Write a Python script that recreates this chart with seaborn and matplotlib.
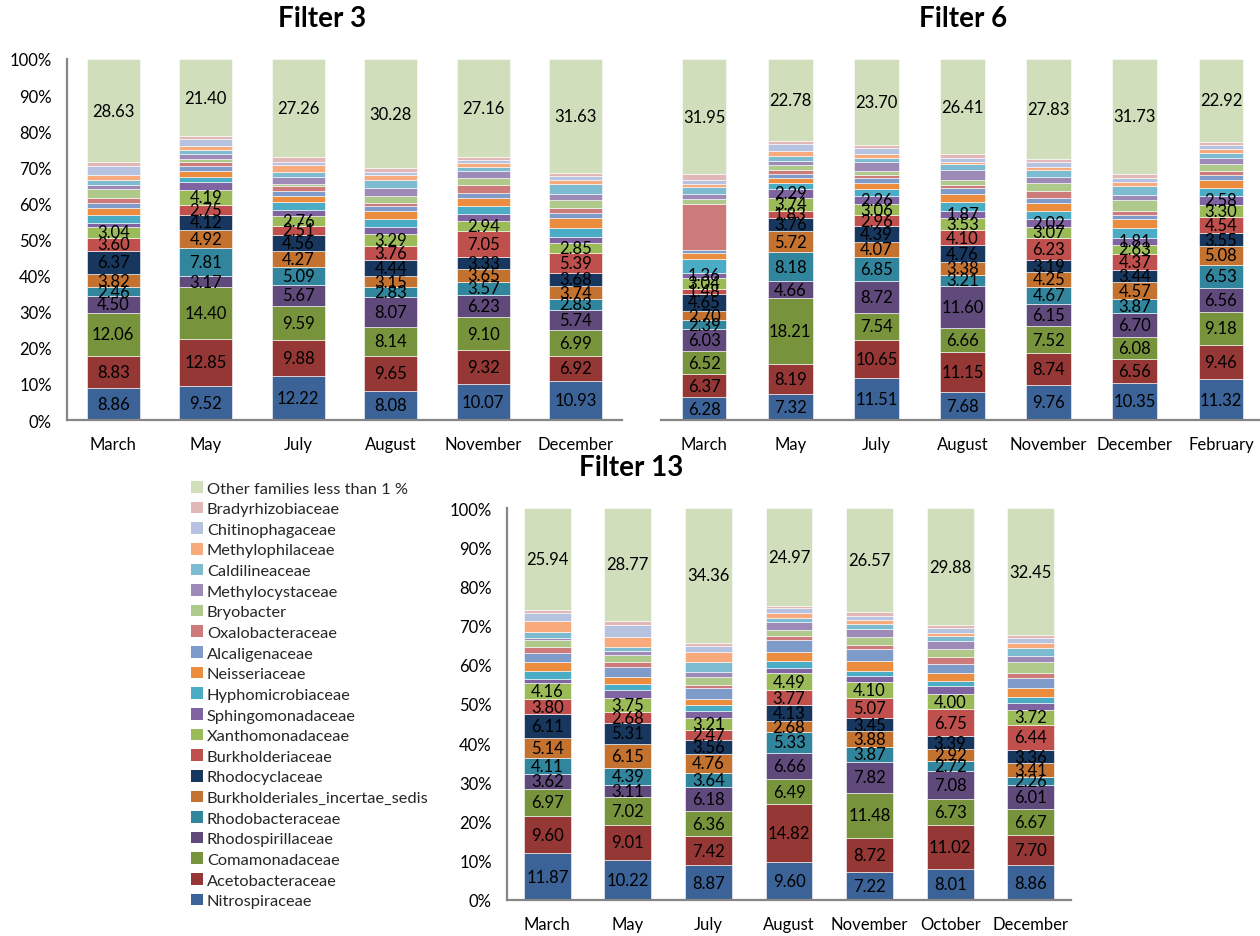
import numpy as np
import matplotlib
matplotlib.use("Agg")
import matplotlib.pyplot as plt
import seaborn as sns
from matplotlib.patches import Patch

# Families, stacked from the bottom up
families = [
    "Nitrospiraceae", "Acetobacteraceae", "Comamonadaceae", "Rhodospirillaceae",
    "Rhodobacteraceae", "Burkholderiales_incertae_sedis", "Rhodocyclaceae",
    "Burkholderiaceae", "Xanthomonadaceae", "Sphingomonadaceae", "Hyphomicrobiaceae",
    "Neisseriaceae", "Alcaligenaceae", "Oxalobacteraceae", "Bryobacter",
    "Methylocystaceae", "Caldilineaceae", "Methylophilaceae", "Chitinophagaceae",
    "Bradyrhizobiaceae", "Other families less than 1 %",
]

family_colors = [
    "#3C6397", "#943735", "#77933C", "#604A7B", "#31859C", "#C4722F", "#17375E",
    "#C0504D", "#9BBB59", "#8064A2", "#4BACC6", "#EB8C3F", "#7F9BC9", "#CD7B7A",
    "#AFC98A", "#9E8AB7", "#7DBCD0", "#F8AA7C", "#B5C3E0", "#E1B7B7", "#D1DEBB",
]

# Filter 3 (relative abundance, %)
f3_months = ["March", "May", "July", "August", "November", "December"]
f3_march = [8.86, 8.83, 12.06, 4.50, 2.46, 3.82, 6.37, 3.60, 3.04, 1.00, 2.30,
            1.75, 1.60, 1.40, 2.40, 1.00, 1.50, 1.50, 2.30, 1.08, 28.63]
f3_may = [9.52, 12.85, 14.40, 3.17, 7.81, 4.92, 4.12, 2.75, 4.19, 2.10, 1.50,
          1.60, 1.30, 1.20, 1.00, 1.30, 1.10, 1.10, 2.00, 0.67, 21.40]
f3_july = [12.22, 9.88, 9.59, 5.67, 5.09, 4.27, 4.56, 2.51, 2.76, 1.75, 2.10,
           1.70, 1.40, 1.20, 0.75, 1.75, 1.50, 1.90, 1.00, 1.14, 27.26]
f3_august = [8.08, 9.65, 8.14, 8.07, 2.83, 3.15, 4.44, 3.76, 3.29, 2.10, 2.20,
             2.20, 1.50, 0.75, 1.85, 2.20, 2.20, 1.50, 0.75, 1.06, 30.28]
f3_november = [10.07, 9.32, 9.10, 6.23, 3.57, 3.65, 3.33, 7.05, 2.94, 1.85, 2.30,
               2.20, 1.40, 2.20, 1.90, 1.90, 1.10, 1.10, 0.90, 0.73, 27.16]
f3_december = [10.93, 6.92, 6.99, 5.74, 2.83, 3.74, 3.68, 5.39, 2.85, 1.50, 2.60,
               2.70, 1.40, 1.40, 2.30, 1.60, 2.80, 1.20, 0.90, 0.90, 31.63]

# Filter 6
f6_months = ["March", "May", "July", "August", "November", "December", "February"]
f6_march = [6.28, 6.37, 6.52, 6.03, 2.39, 2.70, 4.65, 1.48, 3.04, 1.36, 3.90,
            1.65, 0.80, 12.60, 1.50, 1.20, 2.20, 0.65, 1.10, 1.63, 31.95]
f6_may = [7.32, 8.19, 18.21, 4.66, 8.18, 5.72, 3.76, 1.83, 3.74, 2.29, 1.85,
          1.40, 0.90, 1.30, 1.20, 1.30, 1.30, 1.50, 1.85, 0.72, 22.78]
f6_july = [11.51, 10.65, 7.54, 8.72, 6.85, 4.07, 4.39, 2.96, 3.06, 2.26, 2.10,
           1.60, 1.20, 1.00, 1.10, 2.50, 1.10, 1.10, 1.50, 1.09, 23.70]
f6_august = [7.68, 11.15, 6.66, 11.60, 3.21, 3.38, 4.76, 4.10, 3.53, 1.87, 2.50,
             2.30, 1.50, 0.75, 1.50, 2.85, 1.50, 0.75, 0.90, 1.10, 26.41]
f6_november = [9.76, 8.74, 7.52, 6.15, 4.67, 4.25, 3.19, 6.23, 3.07, 2.02, 2.40,
               2.20, 1.40, 1.85, 2.20, 1.75, 1.90, 0.85, 1.40, 0.62, 27.83]
f6_december = [10.35, 6.56, 6.08, 6.70, 3.87, 4.57, 3.44, 4.37, 2.63, 1.81, 2.70,
               2.70, 1.10, 1.10, 2.85, 1.60, 2.50, 1.10, 1.10, 1.14, 31.73]
f6_february = [11.32, 9.46, 9.18, 6.56, 6.53, 5.08, 3.55, 4.54, 3.30, 2.58, 2.10,
               2.20, 1.50, 1.10, 1.85, 1.60, 1.40, 1.10, 1.10, 1.03, 22.92]

# Filter 13
f13_months = ["March", "May", "July", "August", "November", "October", "December"]
f13_march = [11.87, 9.60, 6.97, 3.62, 4.11, 5.14, 6.11, 3.80, 4.16, 1.10, 2.05,
             2.10, 2.40, 1.50, 1.90, 0.50, 1.50, 2.70, 2.05, 0.88, 25.94]
f13_may = [10.22, 9.01, 7.02, 3.11, 4.39, 6.15, 5.31, 2.68, 3.75, 2.05, 1.45,
           1.80, 2.40, 1.30, 1.95, 0.85, 1.00, 2.70, 3.10, 0.99, 28.77]
f13_july = [8.87, 7.42, 6.36, 6.18, 3.64, 4.76, 3.56, 2.47, 3.21, 1.85, 1.35,
            1.70, 2.80, 0.70, 2.05, 1.35, 2.40, 2.60, 1.45, 0.92, 34.36]
f13_august = [9.60, 14.82, 6.49, 6.66, 5.33, 2.68, 4.13, 3.77, 4.49, 1.30, 1.70,
              2.40, 3.05, 1.00, 1.35, 2.05, 1.00, 1.35, 1.20, 0.66, 24.97]
f13_november = [7.22, 8.72, 11.48, 7.82, 3.87, 3.88, 3.45, 5.07, 4.10, 1.60, 1.30,
                2.45, 3.15, 1.00, 2.05, 1.95, 1.35, 1.00, 1.10, 0.87, 26.57]
f13_october = [8.01, 11.02, 6.73, 7.08, 2.72, 2.92, 3.39, 6.75, 4.00, 1.85, 1.45,
               2.05, 2.30, 1.80, 2.05, 2.00, 1.30, 0.75, 1.25, 0.70, 29.88]
f13_december = [8.86, 7.70, 6.67, 6.01, 2.26, 3.41, 3.36, 6.44, 3.72, 1.70, 1.55,
                2.45, 2.40, 1.45, 2.70, 1.60, 2.05, 1.30, 1.10, 0.82, 32.45]

sns.set_theme(style="white")
plt.rcParams["font.family"] = ["Lato", "DejaVu Sans"]

W, H = 1260, 937
fig = plt.figure(figsize=(W / 100, H / 100), dpi=100)
AXIS_GREY = "#868686"
LABEL_SIZE = 12


def add_axes_px(left, top, right, bottom):
    return fig.add_axes([left / W, 1 - bottom / H, (right - left) / W, (bottom - top) / H])


def stacked_panel(ax, months, columns, n_labeled, bar_width, show_y):
    x = np.arange(len(months))
    base = np.zeros(len(months))
    for k, fam in enumerate(families):
        vals = np.array([col[k] for col in columns])
        bars = ax.bar(x, vals, width=bar_width, bottom=base, color=family_colors[k],
                      edgecolor="white", linewidth=0.4)
        if k < n_labeled or k == len(families) - 1:
            ax.bar_label(bars, labels=[f"{v:.2f}" for v in vals], label_type="center",
                         fontsize=LABEL_SIZE, color="black", padding=0)
        base += vals
    ax.set_xlim(-0.5, len(months) - 0.5)
    ax.set_ylim(0, 100)
    ax.set_xticks(x)
    ax.set_xticklabels(months, fontsize=LABEL_SIZE)
    ax.set_yticks(np.arange(0, 101, 10))
    ax.set_yticklabels([f"{t}%" for t in range(0, 101, 10)], fontsize=LABEL_SIZE)
    ax.tick_params(axis="both", length=0, colors="black")
    ax.tick_params(axis="x", pad=11.5)
    ax.tick_params(axis="y", pad=11)
    for side in ("top", "right"):
        ax.spines[side].set_visible(False)
    for side in ("left", "bottom"):
        ax.spines[side].set_color(AXIS_GREY)
        ax.spines[side].set_linewidth(1.6)
    if not show_y:
        ax.spines["left"].set_visible(False)
        ax.set_yticklabels([])
    ax.set_facecolor("white")
    ax.grid(False)


ax3 = add_axes_px(67, 60, 622, 421)
stacked_panel(ax3, f3_months,
              [f3_march, f3_may, f3_july, f3_august, f3_november, f3_december],
              9, 0.57, True)

ax6 = add_axes_px(661, 60, 1264, 421)
stacked_panel(ax6, f6_months,
              [f6_march, f6_may, f6_july, f6_august, f6_november, f6_december, f6_february],
              10, 0.52, False)

ax13 = add_axes_px(507, 509, 1071, 901)
stacked_panel(ax13, f13_months,
              [f13_march, f13_may, f13_july, f13_august, f13_november, f13_october, f13_december],
              9, 0.58, True)

title_kw = dict(ha="center", va="center", fontsize=20, fontweight="bold", color="black")
fig.text(322 / W, 1 - 19 / H, "Filter 3", **title_kw)
fig.text(963 / W, 1 - 19 / H, "Filter 6", **title_kw)
fig.text(631 / W, 1 - 468 / H, "Filter 13", **title_kw)

handles = [Patch(facecolor=c, edgecolor="none", label=f)
           for f, c in zip(families, family_colors)][::-1]
fig.legend(handles=handles, loc="upper left", bbox_to_anchor=(191 / W, 1 - 482 / H),
           frameon=False, fontsize=11.8, handlelength=0.72, handleheight=0.72,
           handletextpad=0.25, labelspacing=0.37, borderpad=0, borderaxespad=0)

fig.savefig("out.png", dpi=100, facecolor="white")
